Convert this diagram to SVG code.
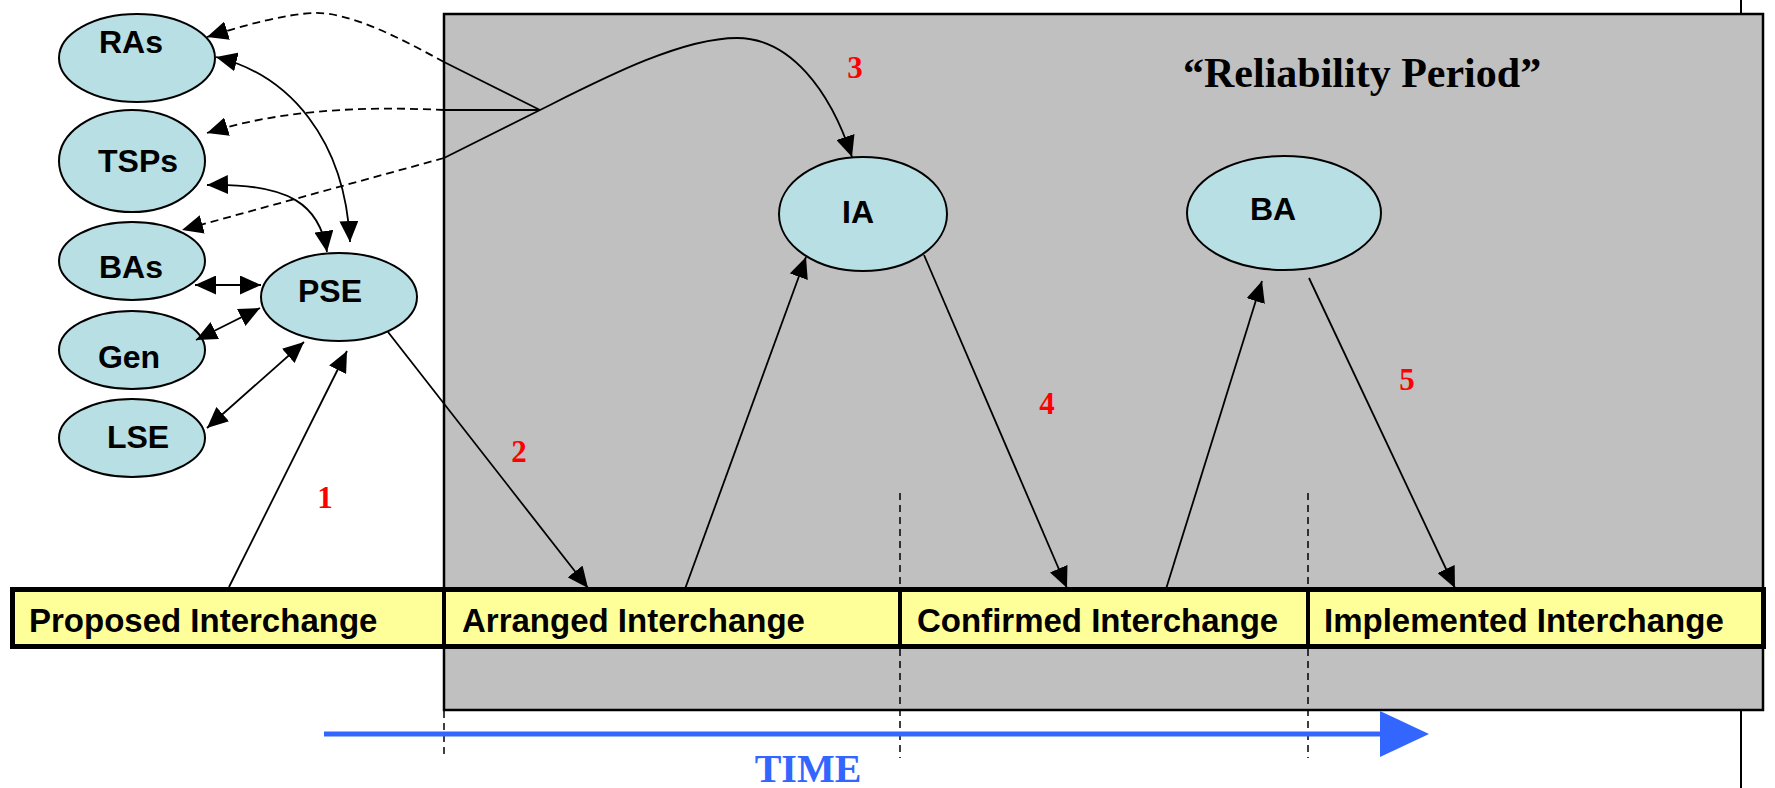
<svg xmlns="http://www.w3.org/2000/svg" width="1775" height="788" viewBox="0 0 1775 788">
<style>
.node{fill:#b8dfe3;stroke:#000;stroke-width:2}
.nt{font-family:"Liberation Sans",Arial,sans-serif;font-weight:bold;font-size:32px;fill:#000;text-anchor:middle}
.bt{font-family:"Liberation Sans",Arial,sans-serif;font-weight:bold;font-size:33px;fill:#000}
.num{font-family:"Liberation Serif","Times New Roman",serif;font-weight:bold;font-size:31px;fill:#ff0000;text-anchor:middle}
.c{fill:none;stroke:#000;stroke-width:1.8}
.d{fill:none;stroke:#000;stroke-width:1.8;stroke-dasharray:8,5}
.vd{fill:none;stroke:#000;stroke-width:1.5;stroke-dasharray:7,5}
</style>
<defs>
<marker id="ah" viewBox="0 0 21 19" refX="21" refY="9.5" markerWidth="21" markerHeight="19" markerUnits="userSpaceOnUse" orient="auto-start-reverse"><path d="M0,0 L21,9.5 L0,19 z" fill="#000"/></marker>
</defs>
<rect x="0" y="0" width="1775" height="788" fill="#fff"/>
<line x1="1741" y1="0" x2="1741" y2="788" stroke="#000" stroke-width="2"/>
<rect id="reliability-period" x="444" y="14" width="1319" height="696" fill="#c0c0c0" stroke="#000" stroke-width="2.5"/>
<text x="1183" y="87" font-family="'Liberation Serif','Times New Roman',serif" font-weight="bold" font-size="42" fill="#000">“Reliability Period”</text>
<g id="time-dividers">
<line class="vd" x1="444" y1="711" x2="444" y2="758"/>
<line class="vd" x1="900" y1="493" x2="900" y2="758"/>
<line class="vd" x1="1308" y1="493" x2="1308" y2="758"/>
</g>
<g id="timeline">
<rect x="12.5" y="589.5" width="1751" height="57" fill="#ffff99" stroke="#000" stroke-width="5"/>
<line x1="444" y1="589" x2="444" y2="647" stroke="#000" stroke-width="4"/>
<line x1="900" y1="589" x2="900" y2="647" stroke="#000" stroke-width="4"/>
<line x1="1308" y1="589" x2="1308" y2="647" stroke="#000" stroke-width="4"/>
<g id="proposed"><text class="bt" x="29" y="632">Proposed Interchange</text></g>
<g id="arranged"><text class="bt" x="462" y="632">Arranged Interchange</text></g>
<g id="confirmed"><text class="bt" x="917" y="632">Confirmed Interchange</text></g>
<g id="implemented"><text class="bt" x="1324" y="632">Implemented Interchange</text></g>
</g>
<g id="RAs"><ellipse class="node" cx="137" cy="58" rx="78" ry="44"/><text class="nt" x="131" y="53">RAs</text></g>
<g id="TSPs"><ellipse class="node" cx="132" cy="161" rx="73" ry="51"/><text class="nt" x="138" y="172">TSPs</text></g>
<g id="BAs"><ellipse class="node" cx="132" cy="261" rx="73" ry="39"/><text class="nt" x="131" y="278">BAs</text></g>
<g id="Gen"><ellipse class="node" cx="132" cy="350" rx="73" ry="39"/><text class="nt" x="129" y="368">Gen</text></g>
<g id="LSE"><ellipse class="node" cx="132" cy="438" rx="73" ry="39"/><text class="nt" x="138" y="448">LSE</text></g>
<g id="PSE"><ellipse class="node" cx="339" cy="297" rx="78" ry="44"/><text class="nt" x="330" y="302">PSE</text></g>
<g id="IA"><ellipse class="node" cx="863" cy="214" rx="84" ry="57"/><text class="nt" x="858" y="223">IA</text></g>
<g id="BA"><ellipse class="node" cx="1284" cy="213" rx="97" ry="57"/><text class="nt" x="1273" y="220">BA</text></g>
<g id="connectors">
<path class="c" d="M229,587 L347,351" marker-end="url(#ah)"/>
<path class="c" d="M388,332 L588,588" marker-end="url(#ah)"/>
<path class="c" d="M685,589 L806,257" marker-end="url(#ah)"/>
<path class="c" d="M924,255 L1067,588" marker-end="url(#ah)"/>
<path class="c" d="M1166,589 L1262,281" marker-end="url(#ah)"/>
<path class="c" d="M1309,278 L1455,588" marker-end="url(#ah)"/>
<path class="c" d="M195,285 L261,285" marker-start="url(#ah)" marker-end="url(#ah)"/>
<path class="c" d="M196,340 L260,308" marker-start="url(#ah)" marker-end="url(#ah)"/>
<path class="c" d="M207,428 L304,342" marker-start="url(#ah)" marker-end="url(#ah)"/>
<path class="c" d="M207,185 C290,183 320,205 327,252" marker-start="url(#ah)" marker-end="url(#ah)"/>
<path class="c" d="M216,57 C290,75 345,140 350,242" marker-start="url(#ah)" marker-end="url(#ah)"/>
<path class="c" d="M540,110 L444,62"/>
<path class="d" d="M444,62 C400,38 350,12 314,13 C285,14 245,25 207,37" marker-end="url(#ah)"/>
<path class="c" d="M540,110 L444,110"/>
<path class="d" d="M444,110 C360,106 280,110 207,133" marker-end="url(#ah)"/>
<path class="d" d="M444,158 L182,230" marker-end="url(#ah)"/>
<path class="c" d="M444,158 L540,110 C600,80 680,38 737,38 C790,38 830,90 852,157" marker-end="url(#ah)"/>
</g>
<g id="labels">
<text class="num" x="325" y="508">1</text>
<text class="num" x="519" y="462">2</text>
<text class="num" x="855" y="78">3</text>
<text class="num" x="1047" y="414">4</text>
<text class="num" x="1407" y="390">5</text>
</g>
<g id="time-arrow">
<line x1="324" y1="734" x2="1385" y2="734" stroke="#3366ff" stroke-width="5"/>
<polygon points="1380,711 1429,734 1380,757" fill="#3366ff"/>
<text x="808" y="782" font-family="'Liberation Serif','Times New Roman',serif" font-weight="bold" font-size="40" fill="#3366ff" text-anchor="middle">TIME</text>
</g>
</svg>
